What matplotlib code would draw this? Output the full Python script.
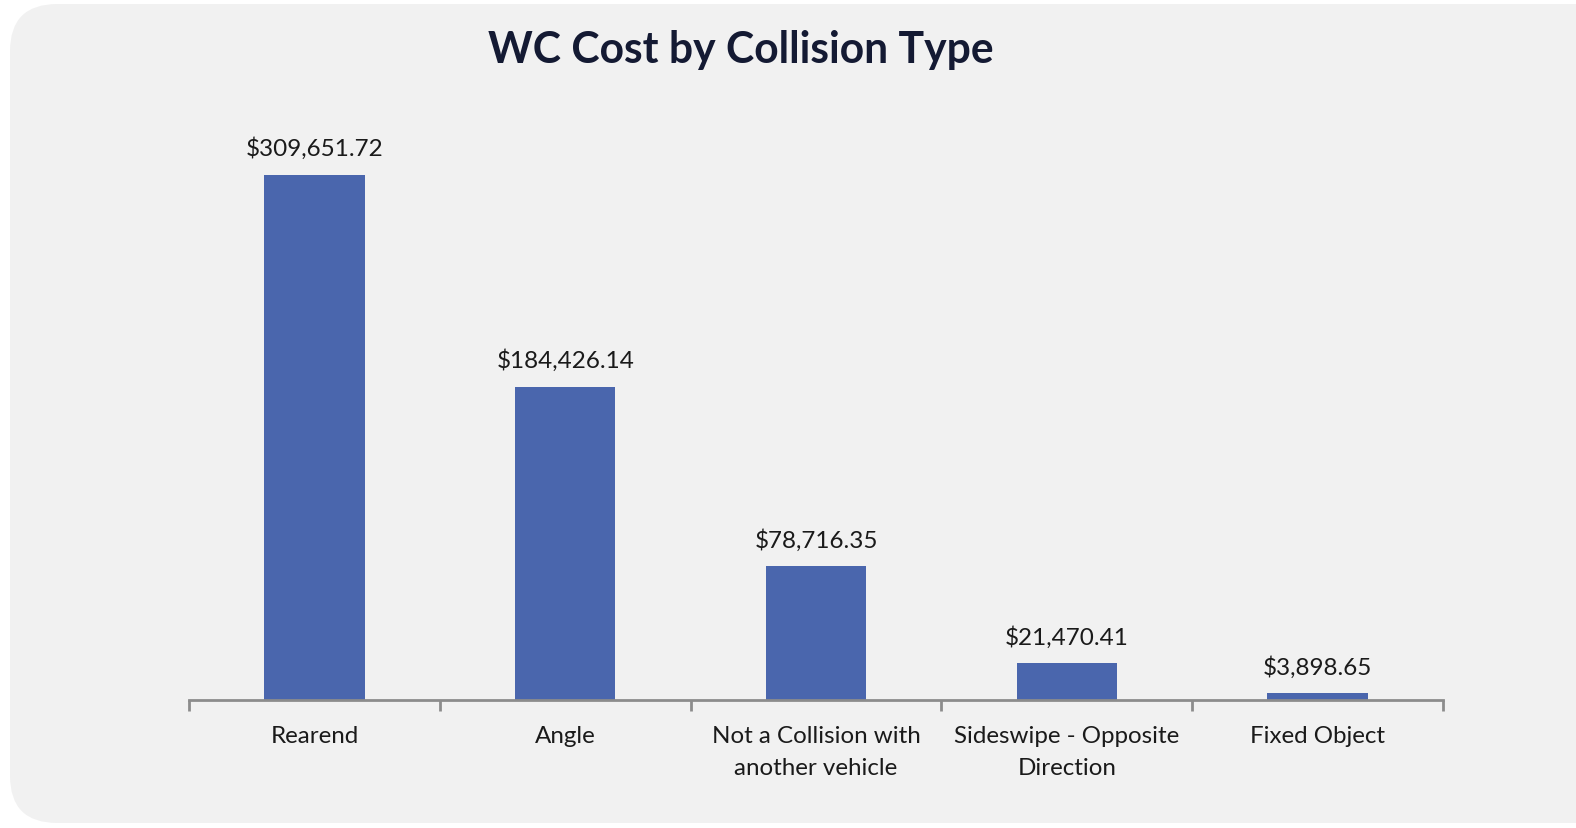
import matplotlib.pyplot as plt
from matplotlib.patches import FancyBboxPatch
import numpy as np

categories = ["Rearend", "Angle", "Not a Collision with\nanother vehicle",
              "Sideswipe - Opposite\nDirection", "Fixed Object"]
costs = [309651.72, 184426.14, 78716.35, 21470.41, 3898.65]

W, H = 1576, 829
fig = plt.figure(figsize=(W / 100, H / 100), dpi=100)
fig.patch.set_facecolor("white")

# rounded light grey panel behind the chart
panel = FancyBboxPatch((10 / W, 5 / H), (W + 40) / W, (H - 10) / H,
                       boxstyle="round,pad=0,rounding_size=0.03",
                       transform=fig.transFigure, facecolor="#f1f1f1",
                       edgecolor="none", mutation_aspect=W / H, zorder=-10)
fig.patches.append(panel)

ax = fig.add_axes([189 / W, (H - 700.5) / H, (1443 - 189) / W, 600.5 / H])
ax.set_facecolor("none")

x = np.arange(len(categories))
bars = ax.bar(x, costs, width=0.4, color="#4a66ad", zorder=2)
ax.set_xlim(-0.5, len(categories) - 0.5)
ax.set_ylim(0, costs[0] * 600.5 / 525)

for b, v in zip(bars, costs):
    ax.text(b.get_x() + b.get_width() / 2, v + costs[0] * 15.5 / 525,
            "${:,.2f}".format(v), ha="center", va="bottom",
            fontsize=17.5, family="Lato", color="#1a1a1a")

for s in ["top", "right", "left"]:
    ax.spines[s].set_visible(False)
ax.spines["bottom"].set_color("#8c8c8c")
ax.spines["bottom"].set_linewidth(2)
ax.set_yticks([])

# ticks sit between the categories
ax.set_xticks(np.arange(len(categories) + 1) - 0.5)
ax.set_xticklabels([])
ax.tick_params(axis="x", length=8, width=2, color="#8c8c8c", direction="out")
for i, c in enumerate(categories):
    ax.text(i, -0.042, c, transform=ax.get_xaxis_transform(), ha="center",
            va="top", fontsize=17.4, family="Lato", color="#1a1a1a",
            linespacing=1.65)

fig.text(741 / W, 1 - 50 / H, "WC Cost by Collision Type", ha="center",
         va="center", fontsize=30.7, fontweight="bold", family="Lato",
         color="#141a33")

fig.savefig("out.png", dpi=100, facecolor=fig.get_facecolor())
